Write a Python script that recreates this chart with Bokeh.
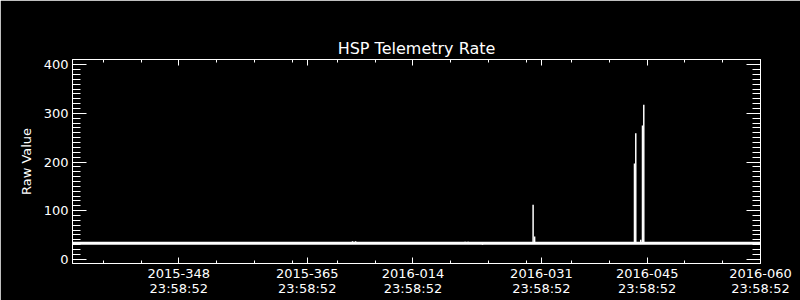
from bokeh.plotting import figure
from bokeh.models import FixedTicker, LinearAxis, Range1d
from bokeh.embed import file_html
from bokeh.resources import INLINE

# ---- data (x in day-of-year, 2016 days continue after 365) ----
tick_days = [348, 365, 379, 396, 410, 425]
tick_dates = ["2015-348", "2015-365", "2016-014", "2016-031", "2016-045", "2016-060"]
tick_times = ["23:58:52"] * 6
minor_days = [338, 343, 353, 358, 363, 369, 374, 384, 389, 394, 400, 405, 415, 420]

y_major = [0, 100, 200, 300, 400]
y_minor = [v for v in range(10, 410, 10) if v % 100 != 0]

base_t = [333.93, 425.0]
base_v = [33, 33]

spike_t = [371.0, 371.4, 385.9, 386.3, 388.2, 394.9, 395.1, 408.32, 408.49, 409.15, 409.38, 409.55]
spike_v = [37, 37, 36, 36, 30, 112, 47, 197, 259, 40, 275, 318]
spike_base = [33] * len(spike_t)

FONT = "DejaVu Sans"
W = "white"

p = figure(width=800, height=300, output_backend="svg", toolbar_location=None,
           x_range=Range1d(333.93, 425.0), y_range=Range1d(-8.8, 410.9),
           x_axis_location=None, y_axis_location=None,
           min_border_left=72, min_border_right=40, min_border_top=59, min_border_bottom=37)
p.background_fill_color = "black"
p.border_fill_color = "black"
p.outline_line_color = W
p.outline_line_width = 1
p.grid.visible = False

p.title.text = "HSP Telemetry Rate"
p.title.text_color = W
p.title.text_font = FONT
p.title.text_font_size = "16px"
p.title.text_font_style = "normal"
p.title.align = "center"
p.title.standoff = 4

xt = FixedTicker(ticks=tick_days, minor_ticks=minor_days)
yt = FixedTicker(ticks=y_major, minor_ticks=y_minor)

def style(ax, tin, min_in):
    ax.axis_line_color = W
    ax.major_tick_line_color = W
    ax.minor_tick_line_color = W
    ax.major_tick_in = tin
    ax.major_tick_out = 0
    ax.minor_tick_in = min_in
    ax.minor_tick_out = 0
    ax.major_label_text_color = W
    ax.major_label_text_font = FONT
    ax.major_label_text_font_size = "13px"
    ax.axis_label_text_color = W
    ax.axis_label_text_font = FONT
    ax.axis_label_text_font_size = "13px"
    ax.axis_label_text_font_style = "normal"

bottom = LinearAxis(ticker=xt)
bottom.major_label_overrides = {d: l for d, l in zip(tick_days, tick_dates)}
style(bottom, 6, 3)
bottom.major_label_standoff = 5
p.add_layout(bottom, "below")

bottom2 = LinearAxis(ticker=FixedTicker(ticks=tick_days, minor_ticks=[]))
bottom2.major_label_overrides = {d: l for d, l in zip(tick_days, tick_times)}
style(bottom2, 0, 0)
bottom2.axis_line_color = None
bottom2.major_tick_line_color = None
bottom2.minor_tick_line_color = None
bottom2.major_label_standoff = 0
p.add_layout(bottom2, "below")

top = LinearAxis(ticker=xt)
style(top, 6, 3)
top.major_label_overrides = {d: "" for d in tick_days}
top.major_label_standoff = 0
p.add_layout(top, "above")

left = LinearAxis(ticker=yt, axis_label="Raw Value")
style(left, 14, 8)
left.major_label_standoff = 4
left.axis_label_standoff = 7
p.add_layout(left, "left")

right = LinearAxis(ticker=yt)
style(right, 14, 8)
right.major_label_overrides = {v: "" for v in y_major}
right.major_label_standoff = 0
p.add_layout(right, "right")

p.line(base_t, base_v, line_color=W, line_width=3)
p.segment(x0=spike_t, y0=spike_base, x1=spike_t, y1=spike_v, line_color=W, line_width=1.5)

open("out.html", "w").write(file_html(p, INLINE))
